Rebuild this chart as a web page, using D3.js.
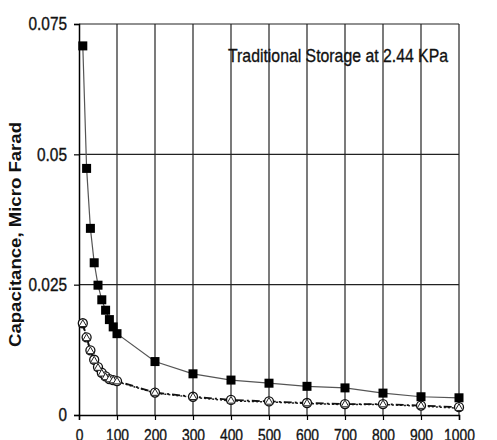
<!DOCTYPE html>
<html>
<head>
<meta charset="utf-8">
<script src="https://cdn.jsdelivr.net/npm/d3@7"></script>
<style>
  body { margin: 0; background: #fff; }
  text { font-family: "Liberation Sans", Arial, sans-serif; }
</style>
</head>
<body>
<script>
  // time points (x axis)
  var times = [10, 20, 30, 40, 50, 60, 70, 80, 90, 100, 200, 300, 400, 500, 600, 700, 800, 900, 1000];
  // series values, micro farad
  var squareVals   = [0.0708, 0.0473, 0.0358, 0.0292, 0.0249, 0.0221, 0.0201, 0.0183, 0.0169, 0.0156,
                      0.01025, 0.0079, 0.0067, 0.0061, 0.0055, 0.0052, 0.0042, 0.0035, 0.0033];
  var circleVals   = [0.0176, 0.0149, 0.0124, 0.0106, 0.0092, 0.0081, 0.0074, 0.0069, 0.0067, 0.0065,
                      0.0043, 0.0035, 0.0029, 0.0026, 0.0023, 0.0021, 0.0021, 0.0018, 0.0015];
  var triangleVals = [0.0174, 0.0147, 0.0122, 0.0104, 0.0090, 0.0079, 0.0072, 0.0068, 0.0066, 0.0064,
                      0.0042, 0.0034, 0.0027, 0.0025, 0.0022, 0.0020, 0.0020, 0.0017, 0.0013];
  var xTicks = [0, 100, 200, 300, 400, 500, 600, 700, 800, 900, 1000];
  var yTicks = [0, 0.025, 0.05, 0.075];
  var yTickLabels = ['0', '0.025', '0.05', '0.075'];

  var width = 497, height = 440;
  var mLeft = 79, mRight = 459, mTop = 24, mBottom = 415;

  var svg = d3.select('body').append('svg')
    .attr('width', width)
    .attr('height', height);

  var x = d3.scaleLinear().domain([0, 1000]).range([mLeft, mRight]);
  var y = d3.scaleLinear().domain([0, 0.075]).range([mBottom, mTop]);

  // squeeze labels so they look like a narrow face
  function narrow(sel, digitW, dotW) {
    sel.each(function() {
      var t = d3.select(this).text();
      var w = 0;
      for (var i = 0; i < t.length; i++) w += (t[i] === '.' ? dotW : digitW);
      d3.select(this).attr('textLength', w).attr('lengthAdjust', 'spacingAndGlyphs');
    });
  }

  // grid
  svg.append('g').selectAll('line').data(xTicks.slice(1)).enter().append('line')
    .attr('x1', function(d) { return x(d); }).attr('x2', function(d) { return x(d); })
    .attr('y1', mTop).attr('y2', mBottom)
    .attr('stroke', '#222').attr('stroke-width', 1.2);
  svg.append('g').selectAll('line').data(yTicks.slice(1)).enter().append('line')
    .attr('x1', mLeft).attr('x2', mRight)
    .attr('y1', function(d) { return y(d); }).attr('y2', function(d) { return y(d); })
    .attr('stroke', '#222').attr('stroke-width', 1.2);

  // axes
  var xAxis = svg.append('g')
    .attr('transform', 'translate(0,' + mBottom + ')')
    .call(d3.axisBottom(x).tickValues(xTicks).tickSize(5).tickPadding(9).tickFormat(d3.format('d')));
  var yAxis = svg.append('g')
    .attr('transform', 'translate(' + mLeft + ',0)')
    .call(d3.axisLeft(y).tickValues(yTicks).tickSize(5).tickPadding(7)
      .tickFormat(function(d, i) { return yTickLabels[i]; }));

  [xAxis, yAxis].forEach(function(a) {
    a.select('.domain').attr('stroke', '#000').attr('stroke-width', 1.5);
    a.selectAll('.tick line').attr('stroke', '#000').attr('stroke-width', 1.2);
    a.selectAll('.tick text').attr('fill', '#111')
      .attr('stroke', '#111').attr('stroke-width', 0.35)
      .style('font-family', '"Liberation Sans", Arial, sans-serif');
  });
  xAxis.selectAll('.tick text').style('font-size', '17px').call(narrow, 7.7, 4);
  yAxis.selectAll('.tick text').style('font-size', '18px').call(narrow, 8.5, 4.5);

  // y title
  svg.append('text')
    .attr('transform', 'translate(21,' + ((122 + 347) / 2) + ') rotate(-90)')
    .attr('text-anchor', 'middle')
    .attr('textLength', 225)
    .attr('lengthAdjust', 'spacingAndGlyphs')
    .style('font-weight', 'bold')
    .style('font-size', '16px')
    .attr('fill', '#111')
    .text('Capacitance, Micro Farad');

  // annotation
  svg.append('text')
    .attr('x', 228).attr('y', 62)
    .attr('textLength', 220)
    .attr('lengthAdjust', 'spacingAndGlyphs')
    .style('font-size', '19px')
    .attr('fill', '#111')
    .attr('stroke', '#111').attr('stroke-width', 0.35)
    .text('Traditional Storage at 2.44 KPa');

  function pts(vals) {
    return times.map(function(t, i) { return [t, vals[i]]; });
  }
  var line = d3.line().x(function(d) { return x(d[0]); }).y(function(d) { return y(d[1]); });

  // lower series lines
  svg.append('path').datum(pts(triangleVals))
    .attr('d', line).attr('fill', 'none')
    .attr('stroke', '#222').attr('stroke-width', 1.5).attr('stroke-dasharray', '2,2');
  svg.append('path').datum(pts(circleVals))
    .attr('d', line).attr('fill', 'none')
    .attr('stroke', '#111').attr('stroke-width', 1.8).attr('stroke-dasharray', '8,3,2,3');

  // squares series line
  svg.append('path').datum(pts(squareVals))
    .attr('d', line).attr('fill', 'none')
    .attr('stroke', '#555').attr('stroke-width', 1.2);

  // circles
  svg.append('g').selectAll('circle').data(pts(circleVals)).enter().append('circle')
    .attr('cx', function(d) { return x(d[0]); })
    .attr('cy', function(d) { return y(d[1]); })
    .attr('r', 4.5)
    .attr('fill', '#fff').attr('stroke', '#111').attr('stroke-width', 1.3);

  // triangles
  var tri = d3.symbol().type(d3.symbolTriangle).size(26);
  svg.append('g').selectAll('path').data(pts(triangleVals)).enter().append('path')
    .attr('transform', function(d) { return 'translate(' + x(d[0]) + ',' + y(d[1]) + ')'; })
    .attr('d', tri)
    .attr('fill', '#fff').attr('stroke', '#222').attr('stroke-width', 1);

  // squares
  svg.append('g').selectAll('rect').data(pts(squareVals)).enter().append('rect')
    .attr('x', function(d) { return x(d[0]) - 4.5; })
    .attr('y', function(d) { return y(d[1]) - 4.5; })
    .attr('width', 9).attr('height', 9)
    .attr('fill', '#000');
</script>
</body>
</html>
